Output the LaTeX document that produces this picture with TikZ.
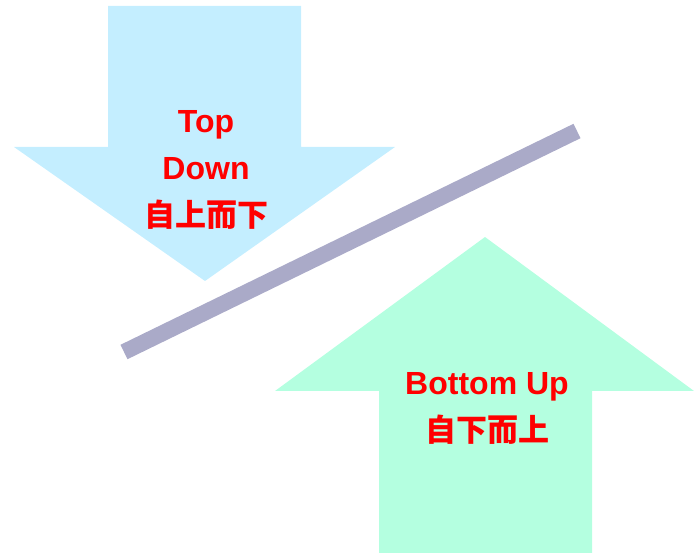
\documentclass[tikz,border=0pt]{standalone}
\usepackage{fontspec}
\setmainfont{Liberation Sans}
\newfontfamily\cjk{Noto Sans CJK SC Bold}
\definecolor{downblue}{HTML}{C4EEFF}
\definecolor{upgreen}{HTML}{B4FFE0}
\definecolor{bargray}{HTML}{AAAAC8}
\tikzset{
  arrowtext/.style={text=red, font=\fontsize{32}{47}\selectfont\bfseries,
    align=center, inner sep=0pt},
}
\begin{document}
\begin{tikzpicture}[x=1pt, y=-1pt]
    \useasboundingbox (0,0) rectangle (694,553);
    % down arrow
    \fill[downblue]
        (108,6)--(301,6)--(301,147)--(395,147)--(205,281)--(14,147)--(108,147)--cycle;
    % up arrow
    \fill[upgreen]
        (379,553)--(592,553)--(592,391)--(694,391)--(485,237)--(275,391)--(379,391)--cycle;
    % bar
    \draw[bargray, line width=16pt]
        (124,352)--(577,131);
    \node[arrowtext] (topdown) at (206,170) {Top\\Down\\{\cjk\fontsize{31}{47}\selectfont 自上而下}};
    \node[arrowtext] (bottomup) at (487,408) {Bottom Up\\{\cjk\fontsize{31}{47}\selectfont 自下而上}};
\end{tikzpicture}
\end{document}
